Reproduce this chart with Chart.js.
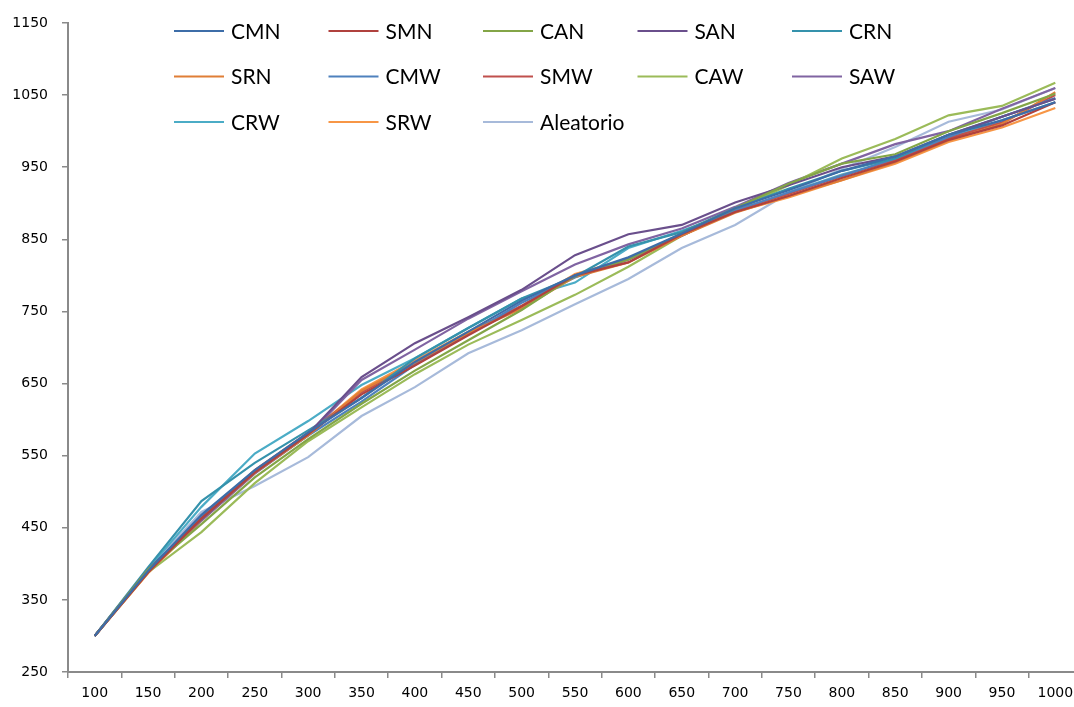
<!DOCTYPE html>
<html>
<head>
<meta charset="utf-8">
<script src="https://cdn.jsdelivr.net/npm/chart.js@4/dist/chart.umd.min.js"></script>
<style>
  html, body { margin: 0; padding: 0; background: #fff; overflow: hidden; width: 1074px; height: 707px; }
  #wrap { width: 1082px; height: 707px; position: relative; }
</style>
</head>
<body>
<div id="wrap"><canvas id="c" width="1082" height="707"></canvas></div>
<script>
const categories = ['100','150','200','250','300','350','400','450','500','550','600','650','700','750','800','850','900','950','1000'];
const yTicks = [250, 350, 450, 550, 650, 750, 850, 950, 1050, 1150];

const CMN = [300, 390, 468, 530, 582, 630, 680, 722, 765, 800, 825, 858, 893, 918, 945, 965, 995, 1015, 1040];
const SMN = [300, 388, 463, 527, 580, 635, 675, 717, 757, 800, 818, 857, 888, 910, 935, 958, 988, 1008, 1040];
const CAN = [300, 392, 455, 520, 573, 622, 668, 710, 752, 800, 822, 858, 893, 927, 955, 968, 1000, 1025, 1052];
const SAN = [300, 392, 462, 527, 580, 659, 706, 742, 780, 828, 857, 870, 901, 925, 950, 965, 995, 1020, 1045];
const CRN = [300, 395, 487, 540, 585, 630, 685, 727, 768, 798, 840, 860, 893, 920, 945, 962, 995, 1020, 1045];
const SRN = [300, 388, 462, 526, 578, 640, 679, 720, 754, 798, 818, 855, 887, 910, 932, 957, 987, 1010, 1054];
const CMW = [300, 390, 466, 528, 578, 625, 676, 718, 762, 797, 822, 855, 890, 915, 938, 962, 992, 1020, 1046];
const SMW = [300, 389, 465, 530, 582, 638, 678, 720, 758, 800, 822, 855, 890, 913, 938, 960, 990, 1012, 1050];
const CAW = [300, 388, 444, 512, 570, 617, 663, 704, 738, 773, 812, 855, 890, 925, 962, 989, 1022, 1035, 1067];
const SAW = [300, 390, 460, 525, 578, 655, 697, 740, 778, 815, 843, 865, 895, 928, 955, 982, 1000, 1031, 1060];
const CRW = [300, 393, 479, 553, 598, 648, 685, 727, 768, 790, 838, 862, 888, 915, 940, 960, 990, 1015, 1040];
const SRW = [300, 387, 460, 528, 580, 642, 682, 722, 757, 802, 823, 857, 888, 908, 932, 955, 985, 1005, 1032];
const Aleatorio = [300, 392, 472, 508, 548, 605, 645, 692, 724, 760, 795, 838, 870, 914, 948, 978, 1013, 1030, 1060];

const seriesNames = ['CMN','SMN','CAN','SAN','CRN','SRN','CMW','SMW','CAW','SAW','CRW','SRW','Aleatorio'];
const seriesData = [CMN, SMN, CAN, SAN, CRN, SRN, CMW, SMW, CAW, SAW, CRW, SRW, Aleatorio];
const seriesColors = ['#3D6DA8','#B0413E','#83A547','#6A4F8C','#3592AC','#E07E36',
                      '#4F81BD','#C0504D','#9BBB59','#8064A2','#4BACC6','#F79646','#A7BADA'];

Chart.defaults.font.family = 'DejaVu Sans';

const datasets = seriesNames.map((n, i) => ({
  label: n,
  data: seriesData[i],
  borderColor: seriesColors[i],
  backgroundColor: seriesColors[i],
  borderWidth: 2.2,
  pointRadius: 0,
  pointHoverRadius: 0,
  tension: 0,
  fill: false,
  order: i
}));

const gridLegend = {
  id: 'gridLegend',
  afterDraw(chart) {
    const ctx = chart.ctx;
    ctx.save();
    ctx.font = '21px Lato, "Open Sans", sans-serif';
    ctx.textBaseline = 'middle';
    ctx.textAlign = 'left';
    chart.data.datasets.forEach((ds, i) => {
      const col = i % 5, row = Math.floor(i / 5);
      const x = 174 + col * 154.5;
      const y = 31 + row * 45.5;
      ctx.strokeStyle = ds.borderColor;
      ctx.lineWidth = 2;
      ctx.beginPath();
      ctx.moveTo(x, y);
      ctx.lineTo(x + 50, y);
      ctx.stroke();
      ctx.fillStyle = '#000';
      ctx.fillText(ds.label, x + 57, y + 1);
    });
    ctx.restore();
  }
};

new Chart(document.getElementById('c'), {
  type: 'line',
  data: { labels: categories, datasets },
  options: {
    responsive: false,
    animation: false,
    events: [],
    layout: { padding: { top: 23, right: 0, left: 0, bottom: 0 } },
    plugins: { legend: { display: false }, tooltip: { enabled: false } },
    scales: {
      x: {
        type: 'category',
        offset: true,
        grid: { offset: true, drawOnChartArea: false, drawTicks: true, tickLength: 6, color: '#8a8a8a', lineWidth: 1.5 },
        border: { display: true, color: '#8a8a8a', width: 2 },
        ticks: { color: '#000', font: { family: 'DejaVu Sans', size: 14 }, padding: 7, maxRotation: 0, autoSkip: false },
        afterFit(s) { s.height = 35; }
      },
      y: {
        min: 250,
        max: 1150,
        afterBuildTicks(s) { s.ticks = yTicks.map(v => ({ value: v })); },
        grid: { drawOnChartArea: false, drawTicks: true, tickLength: 6, color: '#8a8a8a', lineWidth: 1.5 },
        border: { display: true, color: '#8a8a8a', width: 2 },
        ticks: { color: '#000', font: { family: 'DejaVu Sans', size: 14 }, padding: 14, callback: v => String(v) },
        afterFit(s) { s.width = 68; }
      }
    }
  },
  plugins: [gridLegend]
});
</script>
</body>
</html>
